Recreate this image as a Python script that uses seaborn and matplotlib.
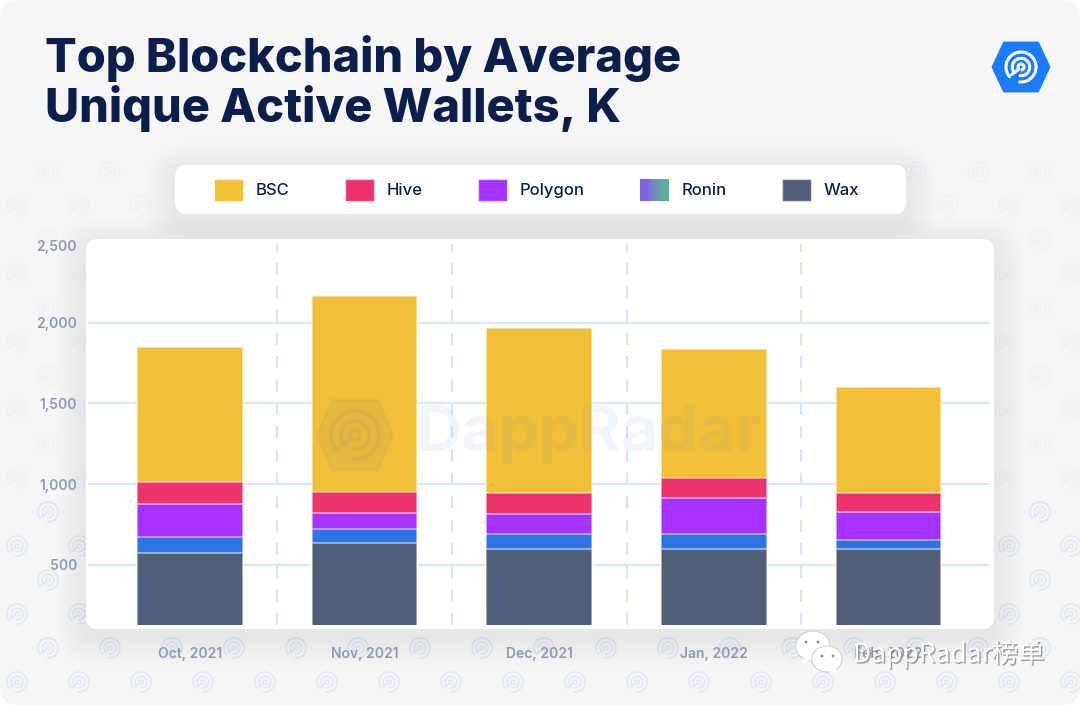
# Top blockchains by unique active wallets, stacked bars with DappRadar card styling
import numpy as np
import pandas as pd
import matplotlib
matplotlib.use("Agg")
import matplotlib.pyplot as plt
import matplotlib.patheffects as pe
import seaborn as sns
from matplotlib.legend_handler import HandlerBase
from matplotlib.patches import Arc, Circle, Ellipse, FancyBboxPatch, Polygon, Rectangle
from matplotlib.transforms import ScaledTranslation

months = ["Oct, 2021", "Nov, 2021", "Dec, 2021", "Jan, 2022", "Feb, 2022"]
wax = [574, 636, 599, 599, 599]
ronin = [99, 87, 93, 93, 56]
polygon = [205, 99, 124, 223, 173]
hive = [136, 130, 127, 121, 115]
bsc = [837, 1215, 1025, 802, 660]
yticks = [500, 1000, 1500, 2000, 2500]

BG = "#f6f6f7"
NAVY = "#0c1f4c"
TICK = "#8e9ab5"
GRID = "#d6e7fc"
COLORS = {"BSC": "#f2bf38", "Hive": "#ec336b", "Polygon": "#a731ff",
          "Ronin": "#2f74e3", "Wax": "#515f78"}

sns.set_theme(style="white")
plt.rcParams["font.family"] = ["Inter", "DejaVu Sans"]

W, H = 1080, 705
fig = plt.figure(figsize=(W / 100, H / 100), dpi=100, facecolor="white")


def px_axes(zorder):
    a = fig.add_axes([0, 0, 1, 1], zorder=zorder)
    a.set_xlim(0, W)
    a.set_ylim(H, 0)
    a.axis("off")
    a.patch.set_alpha(0)
    return a


def card(a, x0, y0, x1, y1, r=12):
    # white rounded card with a soft stacked shadow below it
    for i in range(30, 0, -2):
        a.add_patch(FancyBboxPatch((x0 - i, y0 - i + 8), x1 - x0 + 2 * i, y1 - y0 + 2 * i,
                                   boxstyle=f"round,pad=0,rounding_size={r + i}",
                                   fc="#6a7080", ec="none", alpha=0.0035, zorder=3))
    a.add_patch(FancyBboxPatch((x0, y0), x1 - x0, y1 - y0, zorder=3,
                               boxstyle=f"round,pad=0,rounding_size={r}", fc="white", ec="none"))


def spiral(a, cx, cy, s, color, lw, alpha=1.0, z=2):
    # DappRadar radar mark: two open rings and a dot
    for r in (s, s * 0.58):
        a.add_patch(Arc((cx, cy), 2 * r, 2 * r, theta1=140, theta2=455, color=color,
                        lw=lw, alpha=alpha, zorder=z, capstyle="round"))
    a.add_patch(Arc((cx, cy), 0.4 * s, 0.4 * s, theta1=140, theta2=455, color=color,
                    lw=lw, alpha=alpha, zorder=z))
    a.plot([cx - 0.62 * s, cx - 0.14 * s], [cy + 0.5 * s, cy + 0.14 * s], color=color,
           lw=lw, alpha=alpha, zorder=z, solid_capstyle="round")


def hexagon(a, cx, cy, w, h, color, alpha=1.0, z=1):
    pts = [(cx - w / 2, cy), (cx - w * 0.3, cy - h / 2), (cx + w * 0.3, cy - h / 2),
           (cx + w / 2, cy), (cx + w * 0.3, cy + h / 2), (cx - w * 0.3, cy + h / 2)]
    a.add_patch(Polygon(pts, closed=True, fc=color, ec=color, lw=2, joinstyle="round",
                        alpha=alpha, zorder=z))


# --- background, repeating pattern, cards ---
bg = px_axes(0)
bg.add_patch(FancyBboxPatch((0, 0), W, H, boxstyle="round,pad=0,rounding_size=18",
                            fc=BG, ec="none", zorder=0))
for card_box in [(175, 165, 906, 214), (86, 239, 994, 629)]:
    card(bg, *card_box)
for row, y in enumerate(range(682, 140, -34)):
    for x in range(-14 + 31 * ((row + 1) % 2), W + 30, 62):
        # pattern shows outside the cards only, and fades towards the top
        if (86 < x < 994 and 225 < y < 640) or (165 < x < 915 and 150 < y < 225):
            continue
        fade = 0.25 if y < 500 else 0.7
        spiral(bg, x, y, 10, "#d9e3f5", 1.2, alpha=fade, z=2)

# --- stacked bars: cumulative totals drawn back to front ---
ax = fig.add_axes([88 / W, 1 - 625 / H, (989 - 88) / W, (625 - 242) / H], zorder=1)
ax.patch.set_alpha(0)
df = pd.DataFrame({"month": months, "Wax": wax, "Ronin": ronin, "Polygon": polygon,
                   "Hive": hive, "BSC": bsc})
order = ["Wax", "Ronin", "Polygon", "Hive", "BSC"]
cum = df[order].cumsum(axis=1)
for name in order[::-1]:
    sns.barplot(x=df["month"], y=cum[name], color=COLORS[name], saturation=1, width=0.605,
                edgecolor=(1, 1, 1, 0.55), linewidth=1.2, ax=ax, zorder=3)

ax.set_xlim(-0.584, 4.576)
ax.set_ylim(128, 2500)
ax.set_xlabel("")
ax.set_ylabel("")
ax.set_yticks(yticks)
ax.set_yticklabels([f"{v:,}" for v in yticks])
ax.hlines(yticks[:-1], *ax.get_xlim(), color=GRID, lw=1.6, zorder=1)
ax.vlines(np.arange(len(months) - 1) + 0.5, 128, 2485, color=GRID, lw=1.6,
          linestyles=(0, (5.5, 5)), zorder=1)
sns.despine(ax=ax, left=True, bottom=True)
ax.tick_params(axis="x", length=0, pad=16, labelsize=10, labelcolor=TICK)
ax.tick_params(axis="y", length=0, pad=8, labelsize=10, labelcolor=TICK)
for lab in ax.get_xticklabels() + ax.get_yticklabels():
    lab.set_fontweight("semibold")
# top label sits a little below its nominal position in the original
top_lab = ax.get_yticklabels()[-1]
top_lab.set_transform(top_lab.get_transform() + ScaledTranslation(0, -4 / 100, fig.dpi_scale_trans))


# --- legend ---
class GradientHandler(HandlerBase):
    def create_artists(self, legend, orig, xd, yd, w, h, fontsize, trans):
        c0, c1 = np.array(matplotlib.colors.to_rgb("#7f63e6")), np.array(matplotlib.colors.to_rgb("#5fae98"))
        out = []
        n = 20
        for i in range(n):
            t = np.clip((i / (n - 1) - 0.2) / 0.6, 0, 1)
            out.append(Rectangle((xd * -1 + w * i / n, -yd), w / n + 0.3, h, fc=c0 + (c1 - c0) * t,
                                 ec="none", transform=trans))
        return out


names = ["BSC", "Hive", "Polygon", "Ronin", "Wax"]
handles = [Rectangle((0, 0), 1, 1, fc=COLORS[n] if n != "Ronin" else "#7f63e6", ec=(1, 1, 1, 0.5)) for n in names]
leg = fig.legend(handles, names, ncol=5, frameon=False, loc="center left",
                 bbox_to_anchor=(214 / W, 1 - 190 / H), fontsize=12, labelcolor=NAVY,
                 handlelength=1.74, handleheight=1.62, handletextpad=0.78, columnspacing=3.3,
                 borderpad=0, borderaxespad=0,
                 handler_map={handles[3]: GradientHandler()})
leg.set_zorder(5)
for t in leg.get_texts():
    t.set_fontweight("medium")

# --- overlay: title, logos, watermarks ---
top = px_axes(4)
for line, y in (("Top Blockchain by Average", 58), ("Unique Active Wallets, K", 109)):
    top.text(45, y, line, fontsize=33.8, fontweight="heavy", color=NAVY, va="center", ha="left")

hexagon(top, 1021, 67, 56, 48, "#1a7cf7")
spiral(top, 1021, 67, 15, "white", 2.2, z=2)

# faint centre watermark sits on top of the bars
hexagon(top, 355, 435, 76, 70, "#5a7fa8", alpha=0.07)
spiral(top, 355, 435, 24, "#5a7fa8", 3, alpha=0.10, z=2)
top.text(416, 435, "DappRadar", fontsize=46, fontweight="bold", color="#3d8df0", alpha=0.07,
         va="center", ha="left")

# WeChat account stamp
for cx, cy, rx, ry, tail in ((813, 646, 17, 15, (801, 665)), (827, 659, 15, 13, (838, 674))):
    top.add_patch(Ellipse((cx, cy), 2 * rx, 2 * ry, fc="white", ec="#c8c8c8", lw=0.6, zorder=3))
    top.add_patch(Polygon([(cx - 8, cy + 9), (cx + 8, cy + 9), tail], fc="white", ec="none", zorder=3))
for ex, ey in ((806, 642), (818, 642), (822, 656), (833, 656)):
    top.add_patch(Circle((ex, ey), 1.4, fc="#8a8a8a", ec="none", zorder=4))
top.text(853, 654, "DappRadar榜单", fontsize=19, color="white", va="center", ha="left",
         family=["Noto Sans CJK SC", "DejaVu Sans"], zorder=4,
         path_effects=[pe.withSimplePatchShadow(offset=(1, -1), shadow_rgbFace="#777777", alpha=0.7)])

fig.savefig("out.png", dpi=100, facecolor=fig.get_facecolor())
